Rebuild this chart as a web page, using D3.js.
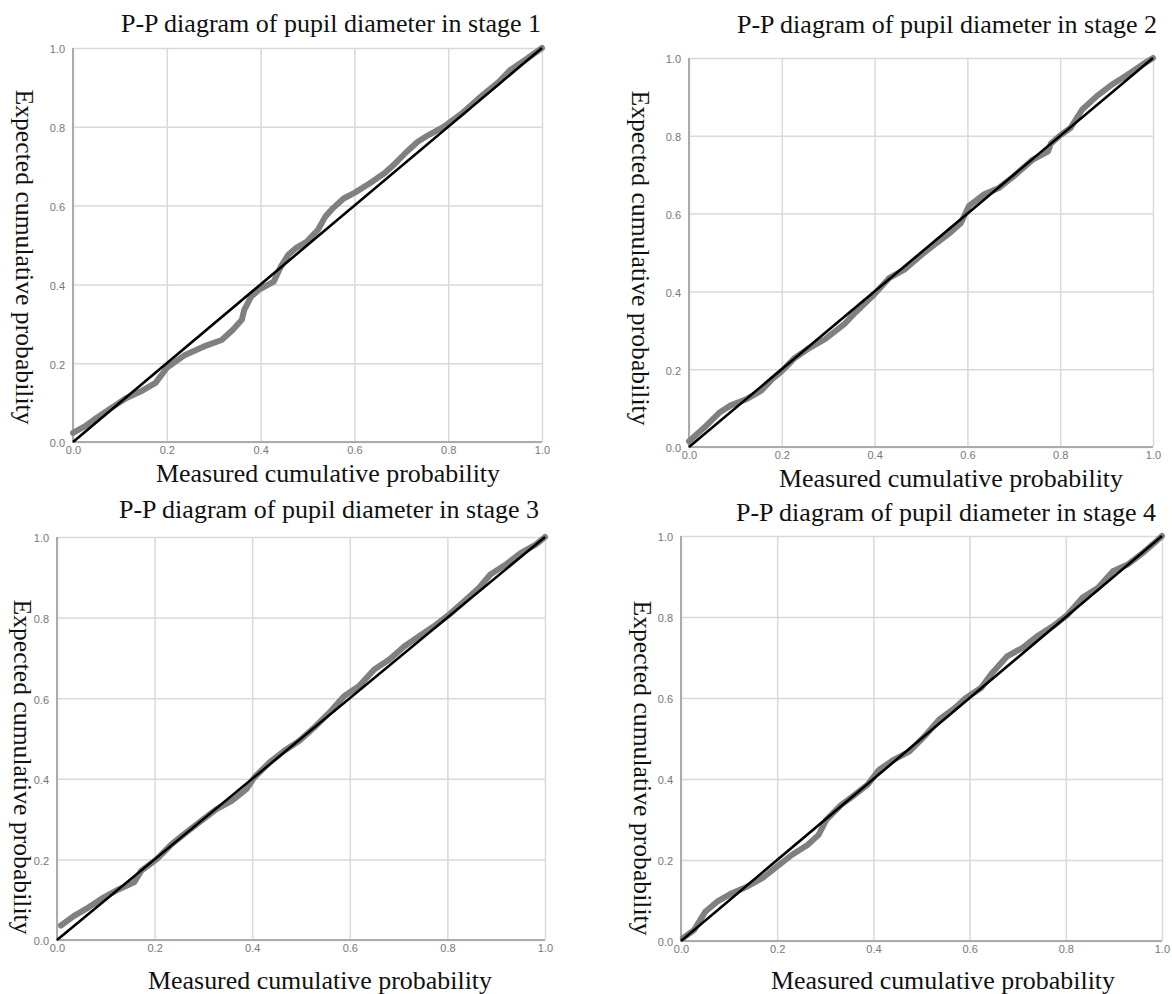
<!DOCTYPE html>
<html>
<head>
<meta charset="utf-8">
<script src="https://cdn.jsdelivr.net/npm/d3@7"></script>
<style>
  body { margin: 0; background: #fff; }
  .grid line { stroke: #d9d9d9; stroke-width: 1.5; }
  .grid .domain { display: none; }
  .tick text { font-family: "Liberation Sans", Arial, sans-serif; font-size: 11px; fill: #777; }
  .frame { stroke: #ababab; stroke-width: 2; fill: none; }
  .label { font-family: "Liberation Serif", "Times New Roman", serif; fill: #111; }
</style>
</head>
<body>
<svg id="chart" width="1172" height="994"></svg>
<script>
// tick labels shared by every panel
const tickValues = [0, 0.2, 0.4, 0.6, 0.8, 1.0];

const stageTitles = [
    "P-P diagram of pupil diameter in stage 1",
    "P-P diagram of pupil diameter in stage 2",
    "P-P diagram of pupil diameter in stage 3",
    "P-P diagram of pupil diameter in stage 4"
];
const xAxisTitle = "Measured cumulative probability";
const yAxisTitle = "Expected cumulative probability";

// values (measured = x, expected = y)
const stage1Measured = [0, 0.026, 0.05, 0.081, 0.113, 0.144, 0.176, 0.2, 0.239, 0.278, 0.317, 0.341, 0.36, 0.365, 0.38, 0.396, 0.428, 0.443, 0.459, 0.475, 0.498, 0.522, 0.538, 0.554, 0.577, 0.601, 0.632, 0.664, 0.687, 0.711, 0.735, 0.758, 0.79, 0.829, 0.869, 0.908, 0.931, 0.963, 1];
const stage1Expected = [0.023, 0.04, 0.061, 0.086, 0.111, 0.128, 0.15, 0.188, 0.221, 0.242, 0.259, 0.285, 0.31, 0.335, 0.369, 0.386, 0.407, 0.445, 0.475, 0.492, 0.508, 0.538, 0.572, 0.593, 0.618, 0.633, 0.656, 0.682, 0.707, 0.736, 0.762, 0.779, 0.8, 0.834, 0.876, 0.914, 0.943, 0.969, 1];

const stage2Measured = [0, 0.033, 0.065, 0.09, 0.122, 0.155, 0.179, 0.2, 0.228, 0.26, 0.293, 0.334, 0.358, 0.399, 0.432, 0.464, 0.497, 0.529, 0.562, 0.586, 0.603, 0.635, 0.668, 0.7, 0.741, 0.774, 0.78, 0.798, 0.822, 0.847, 0.879, 0.912, 0.945, 0.977, 1];
const stage2Expected = [0.015, 0.05, 0.088, 0.107, 0.122, 0.144, 0.174, 0.195, 0.229, 0.255, 0.277, 0.315, 0.345, 0.392, 0.435, 0.456, 0.49, 0.52, 0.55, 0.576, 0.619, 0.649, 0.666, 0.696, 0.739, 0.76, 0.78, 0.799, 0.82, 0.867, 0.902, 0.932, 0.957, 0.983, 1];

const stage3Measured = [0.008, 0.035, 0.065, 0.096, 0.127, 0.158, 0.173, 0.204, 0.235, 0.265, 0.296, 0.327, 0.358, 0.388, 0.404, 0.435, 0.465, 0.496, 0.527, 0.558, 0.588, 0.619, 0.65, 0.681, 0.712, 0.742, 0.773, 0.804, 0.835, 0.865, 0.888, 0.919, 0.95, 0.981, 1];
const stage3Expected = [0.036, 0.06, 0.081, 0.106, 0.126, 0.143, 0.172, 0.2, 0.238, 0.267, 0.296, 0.325, 0.345, 0.374, 0.403, 0.44, 0.469, 0.494, 0.527, 0.564, 0.605, 0.63, 0.671, 0.696, 0.729, 0.754, 0.779, 0.808, 0.841, 0.874, 0.907, 0.931, 0.96, 0.981, 1];

const stage4Measured = [0.004, 0.027, 0.051, 0.075, 0.106, 0.137, 0.169, 0.2, 0.231, 0.263, 0.286, 0.302, 0.333, 0.357, 0.388, 0.412, 0.443, 0.475, 0.506, 0.537, 0.569, 0.592, 0.624, 0.647, 0.678, 0.71, 0.741, 0.773, 0.804, 0.835, 0.867, 0.898, 0.929, 0.961, 0.984, 1];
const stage4Expected = [0.007, 0.027, 0.073, 0.097, 0.118, 0.134, 0.155, 0.184, 0.213, 0.237, 0.262, 0.299, 0.336, 0.357, 0.386, 0.423, 0.448, 0.468, 0.505, 0.547, 0.575, 0.6, 0.625, 0.662, 0.703, 0.724, 0.753, 0.777, 0.806, 0.848, 0.872, 0.913, 0.93, 0.959, 0.983, 1];

const stageMeasured = [stage1Measured, stage2Measured, stage3Measured, stage4Measured];
const stageExpected = [stage1Expected, stage2Expected, stage3Expected, stage4Expected];

// where each panel sits on the page
const panels = [
    { left: 73,  right: 542,  top: 48,  bottom: 442, titleX: 541,  titleY: 32,  xlabX: 328, xlabY: 482, ylabX: 16,  ylabY: 257 },
    { left: 689, right: 1153, top: 58,  bottom: 447, titleX: 1157, titleY: 33,  xlabX: 951, xlabY: 487, ylabX: 632, ylabY: 258 },
    { left: 57,  right: 545,  top: 537, bottom: 940, titleX: 539,  titleY: 518, xlabX: 320, xlabY: 989, ylabX: 14,  ylabY: 767 },
    { left: 681, right: 1162, top: 536, bottom: 941, titleX: 1156, titleY: 521, xlabX: 943, xlabY: 989, ylabX: 634, ylabY: 768 }
];

const svg = d3.select("#chart");
const fmt = d3.format(".1f");

panels.forEach((p, i) => {
    const x = d3.scaleLinear().domain([0, 1]).range([p.left, p.right]);
    const y = d3.scaleLinear().domain([0, 1]).range([p.bottom, p.top]);
    const g = svg.append("g");

    // grid lines + tick labels
    g.append("g")
        .attr("class", "grid")
        .attr("transform", `translate(0,${p.bottom})`)
        .call(d3.axisBottom(x).tickValues(tickValues).tickFormat(fmt)
            .tickSize(-(p.bottom - p.top)).tickPadding(4))
        .call(a => a.selectAll(".tick text").attr("dy", "0.75em"));

    g.append("g")
        .attr("class", "grid")
        .attr("transform", `translate(${p.left},0)`)
        .call(d3.axisLeft(y).tickValues(tickValues).tickFormat(fmt)
            .tickSize(-(p.right - p.left)).tickPadding(8))
        .call(a => a.selectAll(".tick text").attr("dy", "0.45em"));

    // left and bottom axis lines
    g.append("path")
        .attr("class", "frame")
        .attr("d", `M${p.left},${p.top}V${p.bottom}H${p.right}`);

    // observed points
    const pts = stageMeasured[i].map((m, k) => [m, stageExpected[i][k]]);
    g.append("path")
        .datum(pts)
        .attr("fill", "none")
        .attr("stroke", "#808080")
        .attr("stroke-width", 6)
        .attr("stroke-linejoin", "round")
        .attr("stroke-linecap", "round")
        .attr("d", d3.line().x(d => x(d[0])).y(d => y(d[1])));

    // reference diagonal
    g.append("line")
        .attr("x1", x(0)).attr("y1", y(0))
        .attr("x2", x(1)).attr("y2", y(1))
        .attr("stroke", "#000")
        .attr("stroke-width", 2.6);

    g.append("text")
        .attr("class", "label")
        .attr("x", p.titleX).attr("y", p.titleY)
        .attr("text-anchor", "end")
        .attr("font-size", 26)
        .attr("textLength", 420)
        .attr("lengthAdjust", "spacingAndGlyphs")
        .text(stageTitles[i]);

    g.append("text")
        .attr("class", "label")
        .attr("x", p.xlabX).attr("y", p.xlabY)
        .attr("text-anchor", "middle")
        .attr("font-size", 26)
        .attr("textLength", 344)
        .attr("lengthAdjust", "spacingAndGlyphs")
        .text(xAxisTitle);

    g.append("text")
        .attr("class", "label")
        .attr("transform", `translate(${p.ylabX},${p.ylabY}) rotate(90)`)
        .attr("text-anchor", "middle")
        .attr("font-size", 26)
        .attr("textLength", 335)
        .attr("lengthAdjust", "spacingAndGlyphs")
        .text(yAxisTitle);
});
</script>
</body>
</html>
